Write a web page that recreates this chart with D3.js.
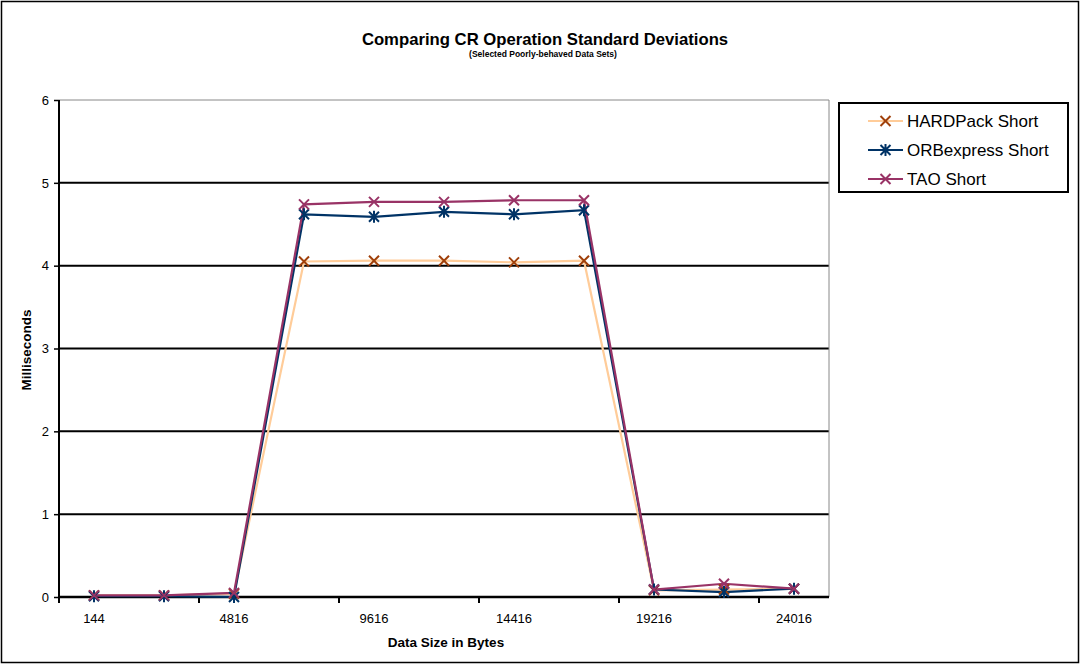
<!DOCTYPE html>
<html><head><meta charset="utf-8">
<script src="https://cdn.jsdelivr.net/npm/d3@7"></script>
<style>body{margin:0;background:#fff;}svg{display:block;font-family:"Liberation Sans",Arial,sans-serif;}</style>
</head><body>
<svg id="c" width="1080" height="664"></svg>
<script>
const categories = ["144","2480","4816","7216","9616","12016","14416","16816","19216","21616","24016"];
const tickLabels = ["144","4816","9616","14416","19216","24016"];
const hardpack = [0.02,0.02,0.04,4.05,4.06,4.06,4.04,4.06,0.08,0.09,0.10];
const orbexpress = [0.01,0.01,0.00,4.62,4.59,4.65,4.62,4.67,0.09,0.06,0.10];
const tao = [0.02,0.02,0.05,4.74,4.77,4.77,4.79,4.79,0.09,0.16,0.10];
const seriesNames = ["HARDPack Short","ORBexpress Short","TAO Short"];
const yTicks = [0,1,2,3,4,5,6];

const series = [
  {name:seriesNames[0], values:hardpack, line:"#FFCC99", marker:"#A0400A", shape:"x"},
  {name:seriesNames[1], values:orbexpress, line:"#003366", marker:"#003366", shape:"star"},
  {name:seriesNames[2], values:tao, line:"#993366", marker:"#993366", shape:"x"}
];

const svg = d3.select("#c");
svg.append("rect").attr("x",1.5).attr("y",1.5).attr("width",1077).attr("height",661)
  .attr("fill","#fff").attr("stroke","#000").attr("stroke-width",1.5);

const L=59, R=829, T=100, B=597;
const x = d3.scaleBand().domain(categories).range([L,R]);
const y = d3.scaleLinear().domain([0,6]).range([B,T]);

// gridlines
svg.append("g").selectAll("line").data(yTicks.filter(d=>d>0 && d<6)).join("line")
  .attr("x1",L).attr("x2",R).attr("y1",d=>y(d)).attr("y2",d=>y(d))
  .attr("stroke","#000").attr("stroke-width",2);
// plot border top/right
svg.append("path").attr("d",`M${L},${y(6)}H${R}V${B}`).attr("fill","none").attr("stroke","#888").attr("stroke-width",1);

// y axis
const ya = svg.append("g").attr("transform",`translate(${L},0)`)
  .call(d3.axisLeft(y).tickValues(yTicks).tickSize(5).tickPadding(5).tickFormat(d3.format("d")));
ya.select(".domain").attr("stroke-width",2).attr("d",`M0,${T}V${B}`);
ya.selectAll(".tick line").attr("stroke-width",1.5);
ya.selectAll("text").attr("font-size",13).attr("font-family","Liberation Sans, Arial, sans-serif").attr("fill","#000");

// x axis: ticks at every other category boundary
const bw = x.step();
const xa = svg.append("g").attr("transform",`translate(0,${B})`);
xa.append("line").attr("x1",L).attr("x2",R).attr("stroke","#000").attr("stroke-width",2.5);
const boundaries = d3.range(0, categories.length+1, 2).map(i=> L + i*bw);
xa.selectAll("line.tk").data(boundaries).join("line").attr("class","tk")
  .attr("x1",d=>d).attr("x2",d=>d).attr("y1",0).attr("y2",6).attr("stroke","#000").attr("stroke-width",2);
xa.selectAll("text").data(tickLabels).join("text")
  .attr("x",d=>x(d)+bw/2).attr("y",26)
  .attr("text-anchor","middle").attr("font-size",13).text(d=>d);

// lines
const lineGen = d3.line().x((d,i)=>x(categories[i])+bw/2).y(d=>y(d));
series.forEach(s=>{
  svg.append("path").datum(s.values).attr("d",lineGen).attr("fill","none")
    .attr("stroke",s.line).attr("stroke-width",2.2);
});
function marker(g, cx, cy, s, r){
  const p = `M${cx-r},${cy-r}L${cx+r},${cy+r}M${cx-r},${cy+r}L${cx+r},${cy-r}` + (s.shape==="star"?`M${cx},${cy-r-1}V${cy+r+1}`:"");
  g.append("path").attr("d",p).attr("stroke",s.marker).attr("stroke-width",2).attr("fill","none");
}
series.forEach(s=>{
  const g = svg.append("g");
  s.values.forEach((v,i)=>marker(g, x(categories[i])+bw/2, y(v), s, 5));
});

// titles
svg.append("text").attr("x",545).attr("y",45).attr("text-anchor","middle")
  .attr("font-size",16.7).attr("font-weight","bold").text("Comparing CR Operation Standard Deviations");
svg.append("text").attr("x",543).attr("y",57).attr("text-anchor","middle")
  .attr("font-size",8.5).attr("font-weight","bold").text("(Selected Poorly-behaved Data Sets)");
svg.append("text").attr("x",446).attr("y",647).attr("text-anchor","middle")
  .attr("font-size",13.5).attr("font-weight","bold").text("Data Size in Bytes");
svg.append("text").attr("transform","translate(31,350) rotate(-90)").attr("text-anchor","middle")
  .attr("font-size",13.5).attr("font-weight","bold").text("Milliseconds");

// legend
const lg = svg.append("g");
lg.append("rect").attr("x",839).attr("y",103).attr("width",229).attr("height",89)
  .attr("fill","#fff").attr("stroke","#000").attr("stroke-width",2);
series.forEach((s,i)=>{
  const cy = 121 + i*29;
  lg.append("line").attr("x1",868).attr("x2",903).attr("y1",cy).attr("y2",cy).attr("stroke",s.line).attr("stroke-width",2.2);
  marker(lg, 885.5, cy, s, 5);
  lg.append("text").attr("x",907).attr("y",cy+6).attr("font-size",17).text(s.name);
});
</script>
</body></html>
